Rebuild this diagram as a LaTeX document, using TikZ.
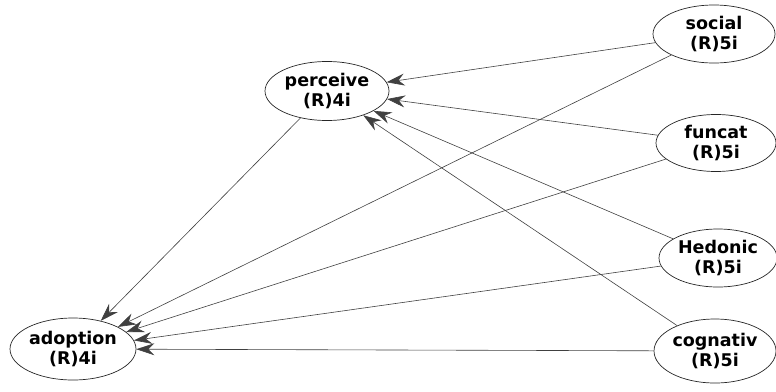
\documentclass[tikz,border=0pt]{standalone}
\usepackage{fontspec}
\setmainfont{DejaVu Sans}
\usetikzlibrary{arrows.meta,shapes.geometric}
\begin{document}
\begin{tikzpicture}[x=1pt,y=-1pt,
  lv/.style={draw=black!85, line width=0.7pt, ellipse, minimum width=#1, inner sep=0pt,
    font=\fontsize{17.5}{20}\selectfont\bfseries, align=center},
  lv/.default=122pt,
  path/.style={draw=black!75, line width=0.6pt, -{Stealth[length=18pt,width=12pt,inset=6pt]}}]
\useasboundingbox (0,0) rectangle (776,391);
\node[lv=124pt, minimum height=59pt] (perceive) at (327,91) {perceive\\(R)4i};
\node[lv=126pt, minimum height=62pt] (adoption) at (73,349) {adoption\\(R)4i};
\node[lv=122pt, minimum height=58pt] (social) at (714,34) {social\\(R)5i};
\node[lv=120pt, minimum height=57pt] (funcat) at (716,143) {funcat\\(R)5i};
\node[lv=118pt, minimum height=58pt] (hedonic) at (718,258) {Hedonic\\(R)5i};
\node[lv=122pt, minimum height=64pt] (cognativ) at (715,351) {cognativ\\(R)5i};
\draw[path] (social) -- (perceive);
\draw[path] (funcat) -- (perceive);
\draw[path] (hedonic) -- (perceive);
\draw[path] (cognativ) -- (perceive);
\draw[path] (perceive) -- (adoption);
\draw[path] (social) -- (adoption);
\draw[path] (funcat) -- (adoption);
\draw[path] (hedonic) -- (adoption);
\draw[path] (cognativ) -- (adoption);
\end{tikzpicture}
\end{document}
